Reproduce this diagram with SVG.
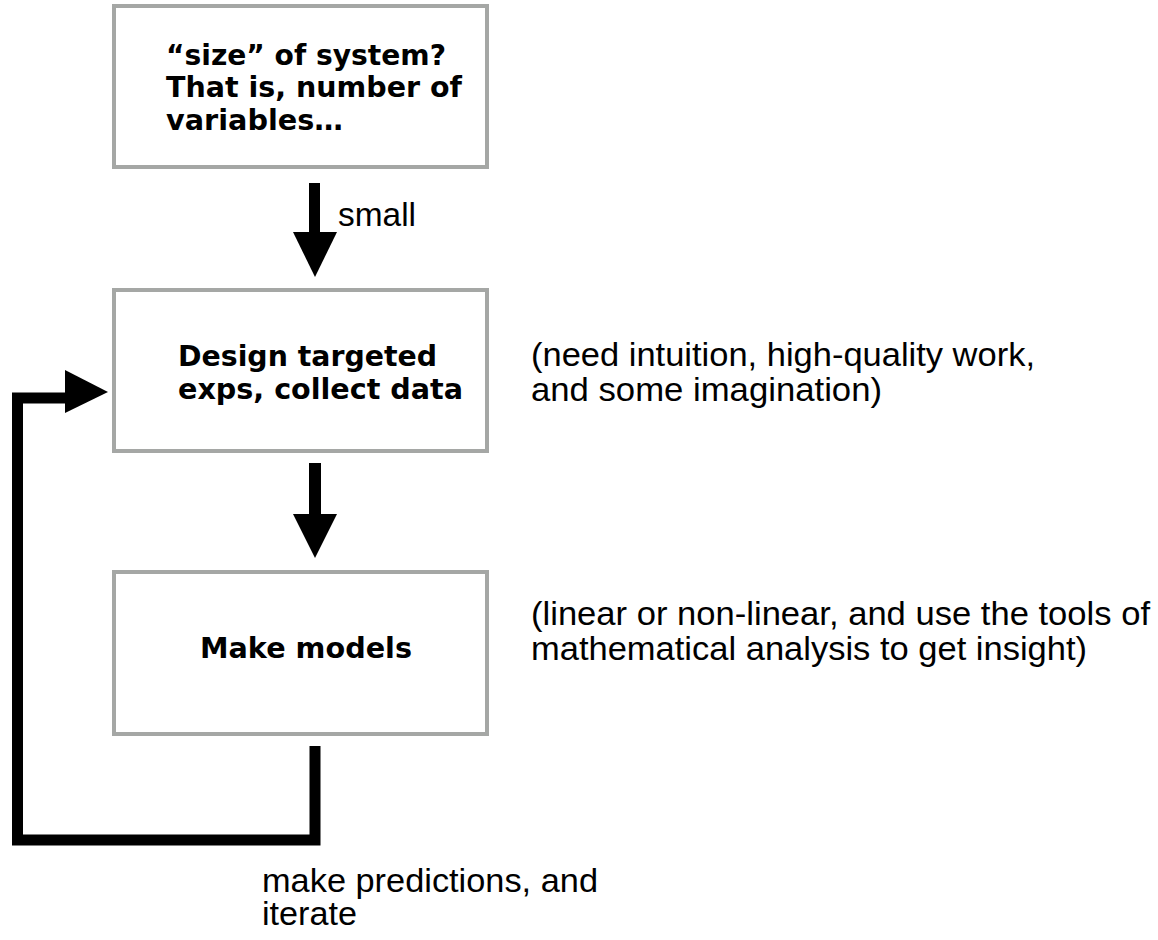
<svg xmlns="http://www.w3.org/2000/svg" width="1158" height="940" viewBox="0 0 1158 940">
  <style>
    .box { fill: #ffffff; stroke: #a5a7a5; stroke-width: 4; }
    .bold { font-family: "DejaVu Sans", Verdana, sans-serif; font-weight: bold; font-size: 28px; fill: #000000; }
    .note { font-family: "Liberation Sans", Arial, sans-serif; font-size: 34px; fill: #000000; }
    .shaft { fill: #000000; }
    .head { fill: #000000; }
    .line { fill: none; stroke: #000000; stroke-width: 11; stroke-linejoin: miter; stroke-linecap: butt; }
  </style>
  <rect x="0" y="0" width="1158" height="940" fill="#ffffff"/>

  <g id="node-size">
    <rect class="box" x="114" y="6" width="373" height="161"/>
    <text class="bold" x="166" y="65" textLength="280" lengthAdjust="spacingAndGlyphs">“size” of system?</text>
    <text class="bold" x="166" y="97" textLength="296" lengthAdjust="spacingAndGlyphs">That is, number of</text>
    <text class="bold" x="166" y="130" textLength="177" lengthAdjust="spacingAndGlyphs">variables…</text>
  </g>

  <g id="node-design">
    <rect class="box" x="114" y="290" width="373" height="161"/>
    <text class="bold" x="178" y="366" textLength="259" lengthAdjust="spacingAndGlyphs">Design targeted</text>
    <text class="bold" x="178" y="399" textLength="285" lengthAdjust="spacingAndGlyphs">exps, collect data</text>
  </g>

  <g id="node-models">
    <rect class="box" x="114" y="572" width="373" height="162"/>
    <text class="bold" x="200" y="658" textLength="212" lengthAdjust="spacingAndGlyphs">Make models</text>
  </g>

  <g id="connectors">
    <rect class="shaft" x="309" y="183" width="11" height="52"/>
    <polygon class="head" points="293,232 337,232 315,277"/>
    <rect class="shaft" x="309" y="463" width="12" height="54"/>
    <polygon class="head" points="293,514 337,514 315,558"/>
    <polyline class="line" points="315,746 315,840 17.5,840 17.5,398 70,398"/>
    <polygon class="head" points="65,370 108,392 65,413"/>
  </g>

  <g id="labels">
    <text class="note" x="338" y="226" textLength="78" lengthAdjust="spacingAndGlyphs">small</text>
    <text class="note" x="531" y="366" textLength="504" lengthAdjust="spacingAndGlyphs">(need intuition, high-quality work,</text>
    <text class="note" x="531" y="401" textLength="351" lengthAdjust="spacingAndGlyphs">and some imagination)</text>
    <text class="note" x="531" y="625" textLength="619" lengthAdjust="spacingAndGlyphs">(linear or non-linear, and use the tools of</text>
    <text class="note" x="531" y="660" textLength="556" lengthAdjust="spacingAndGlyphs">mathematical analysis to get insight)</text>
    <text class="note" x="262" y="892" textLength="336" lengthAdjust="spacingAndGlyphs">make predictions, and</text>
    <text class="note" x="262" y="925" textLength="95" lengthAdjust="spacingAndGlyphs">iterate</text>
  </g>
</svg>
